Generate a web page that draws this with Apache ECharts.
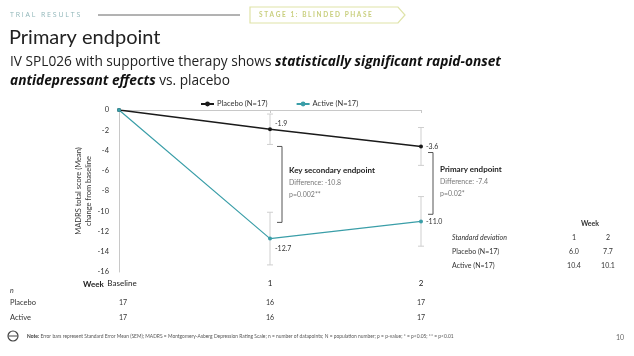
<!DOCTYPE html>
<html><head><meta charset="utf-8">
<script src="https://cdn.jsdelivr.net/npm/echarts@6/dist/echarts.min.js"></script>
<style>html,body{margin:0;padding:0;background:#fff}#c{width:634px;height:356px}</style>
</head><body><div id="c"></div>
<script>
const categories = ['Baseline', '1', '2'];
const placebo = [0, -1.9, -3.6];
const active = [0, -12.7, -11.0];
const placeboSEM = [0, 1.5, 1.87];
const activeSEM = [0, 2.6, 2.45];
const nPlacebo = ['17', '16', '17'];
const nActive = ['17', '16', '17'];
const sdWeeks = ['1', '2'];
const sdPlacebo = ['6.0', '7.7'];
const sdActive = ['10.4', '10.1'];
const brackets = [
  {cat: 1, top: -3.6, bottom: -11.1, title: 'Key secondary endpoint', diff: 'Difference: -10.8', p: 'p=0.002**'},
  {cat: 2, top: -4.2, bottom: -10.3, title: 'Primary endpoint', diff: 'Difference: -7.4', p: 'p=0.02*'}
];
const yTicks = {min: -16, max: 0, interval: 2};

const FONT = 'Lato, "Noto Sans", sans-serif';
const HFONT = '"Open Sans", "Noto Sans", sans-serif';
const BLACK = '#1a1a1a', TEAL = '#3a9ea8', GRAY = '#cfcfcf';

function errData(vals, sem) {
  return vals.map((v, i) => [i, v + sem[i], v - sem[i]]).filter((d, i) => sem[i] > 0);
}
function errRender(params, api) {
  const x = api.value(0);
  const p1 = api.coord([x, api.value(1)]);
  const p2 = api.coord([x, api.value(2)]);
  const w = 3;
  const st = {stroke: GRAY, lineWidth: 1};
  return {type: 'group', children: [
    {type: 'line', shape: {x1: p1[0], y1: p1[1], x2: p2[0], y2: p2[1]}, style: st},
    {type: 'line', shape: {x1: p1[0] - w, y1: p1[1], x2: p1[0] + w, y2: p1[1]}, style: st},
    {type: 'line', shape: {x1: p2[0] - w, y1: p2[1], x2: p2[0] + w, y2: p2[1]}, style: st}
  ]};
}
function bracketRender(params, api) {
  const b = brackets[params.dataIndex];
  const p1 = api.coord([b.cat, b.top]);
  const p2 = api.coord([b.cat, b.bottom]);
  const xr = p1[0] + 12, xl = p1[0] + 7;
  const st = {stroke: '#555', lineWidth: 1, fill: null};
  const mid = (p1[1] + p2[1]) / 2;
  return {type: 'group', children: [
    {type: 'polyline', shape: {points: [[xl, p1[1]], [xr, p1[1]], [xr, p2[1]], [xl, p2[1]]]}, style: st},
    {type: 'text', x: xr + 7, y: mid - 14, style: {text: b.title, font: 'bold 8px ' + FONT, fill: '#222', verticalAlign: 'middle'}},
    {type: 'text', x: xr + 7, y: mid - 2, style: {text: b.diff, font: '7px ' + FONT, fill: '#777', verticalAlign: 'middle'}},
    {type: 'text', x: xr + 7, y: mid + 10, style: {text: b.p, font: '7px ' + FONT, fill: '#777', verticalAlign: 'middle'}}
  ]};
}

const chart = echarts.init(document.getElementById('c'));
const option = {
  animation: false,
  textStyle: {fontFamily: FONT},
  grid: {left: 119, right: 213, top: 110, bottom: 84},
  legend: {
    top: 95, left: 195, itemGap: 28, itemWidth: 13, itemHeight: 6,
    textStyle: {fontSize: 7.5, color: '#333', padding: [0, 0, 0, -2]},
    data: ['Placebo (N=17)', 'Active (N=17)']
  },
  xAxis: {
    type: 'category', data: categories, boundaryGap: false,
    axisLine: {lineStyle: {color: '#c8c8c8'}},
    axisTick: {show: true, length: 3, lineStyle: {color: '#c8c8c8'}},
    axisLabel: {fontSize: 8, color: '#222', margin: 7,
      formatter: (v) => v === 'Baseline' ? '{b|' + v + '}' : v,
      rich: {b: {fontSize: 8, color: '#222', padding: [0, 0, 0, 6]}}}
  },
  yAxis: {
    type: 'value', min: yTicks.min, max: yTicks.max, interval: yTicks.interval,
    name: 'MADRS total score (Mean)\nchange from baseline', nameLocation: 'middle', nameGap: 22,
    nameTextStyle: {fontSize: 7.5, color: '#333', lineHeight: 10},
    axisLine: {show: true, lineStyle: {color: '#c8c8c8'}},
    axisTick: {show: false},
    splitLine: {show: false},
    axisLabel: {fontSize: 7.5, color: '#333', margin: 10}
  },
  series: [
    {type: 'custom', name: 'errP', renderItem: errRender, data: errData(placebo, placeboSEM), z: 1, silent: true},
    {type: 'custom', name: 'errA', renderItem: errRender, data: errData(active, activeSEM), z: 1, silent: true},
    {type: 'custom', name: 'br', renderItem: bracketRender, data: brackets.map((b, i) => [b.cat, b.top, b.bottom]), z: 1, silent: true},
    {
      type: 'line', name: 'Placebo (N=17)', data: placebo, color: BLACK,
      symbol: 'circle', symbolSize: 4, lineStyle: {width: 1.5, color: BLACK}, z: 3,
      label: {show: true, fontSize: 7, color: '#333',
        formatter: (p) => p.dataIndex === 0 ? '' : p.value.toFixed(1),
        position: 'right', distance: 3},
      labelLayout: (p) => p.dataIndex === 1 ? {dy: -5} : {}
    },
    {
      type: 'line', name: 'Active (N=17)', data: active, color: TEAL,
      symbol: 'circle', symbolSize: 4, lineStyle: {width: 1.2, color: TEAL}, z: 3,
      label: {show: true, fontSize: 7, color: '#333',
        formatter: (p) => p.dataIndex === 0 ? '' : p.value.toFixed(1),
        position: 'right', distance: 3},
      labelLayout: (p) => p.dataIndex === 1 ? {dy: 10} : {}
    }
  ]
};
chart.setOption(option);

// Graphic elements: header, table, notes
const g = [];
function txt(x, y, text, font, fill, extra) {
  g.push(Object.assign({type: 'text', x: x, y: y, style: Object.assign({text: text, font: font, fill: fill, verticalAlign: 'middle'}, extra || {})}));
}
txt(10, 15, 'T R I A L   R E S U L T S', '7px ' + HFONT, '#8fb5b8');
g.push({type: 'line', shape: {x1: 98, y1: 15, x2: 240, y2: 15}, style: {stroke: '#666', lineWidth: 1}});
g.push({type: 'polygon', shape: {points: [[250, 7], [398, 7], [405, 15], [398, 23], [250, 23]]}, style: {fill: '#fff', stroke: '#dfe3a8', lineWidth: 1.2}});
txt(259, 15, 'S T A G E   1 :   B L I N D E D   P H A S E', 'bold 6.5px ' + FONT, '#c9cf7e');
txt(9, 38, 'Primary endpoint', '20px ' + FONT, '#222');
g.push({type: 'text', x: 10, y: 62, style: {
  text: '{n|IV SPL026 with supportive therapy shows }{b|statistically significant rapid-onset}',
  verticalAlign: 'middle', rich: {n: {font: '13.7px ' + HFONT, fill: '#222'}, b: {font: 'italic bold 13.7px ' + HFONT, fill: '#111'}}}});
g.push({type: 'text', x: 10, y: 81, style: {
  text: '{b|antidepressant effects}{n| vs. placebo}',
  verticalAlign: 'middle', rich: {n: {font: '13.7px ' + HFONT, fill: '#222'}, b: {font: 'italic bold 13.7px ' + HFONT, fill: '#111'}}}});

// Week label + n table
txt(83, 284, 'Week', 'bold 8px ' + FONT, '#222');
txt(10, 291, 'n', 'italic 7px ' + FONT, '#333');
txt(10, 303, 'Placebo', '7.5px ' + FONT, '#333');
txt(10, 318, 'Active', '7.5px ' + FONT, '#333');
categories.forEach((c, i) => {
  const px = chart.convertToPixel({xAxisIndex: 0}, c);
  const dx = i === 0 ? 4 : 0;
  txt(px + dx, 303, nPlacebo[i], '7px ' + FONT, '#333', {align: 'center'});
  txt(px + dx, 318, nActive[i], '7px ' + FONT, '#333', {align: 'center'});
});

// SD table
txt(590, 224, 'Week', 'bold 7px ' + FONT, '#333', {align: 'center'});
txt(452, 238, 'Standard deviation', 'italic 7px ' + FONT, '#333');
txt(452, 252, 'Placebo (N=17)', '7px ' + FONT, '#333');
txt(452, 266, 'Active (N=17)', '7px ' + FONT, '#333');
const sdX = [574, 608];
sdWeeks.forEach((w, i) => {
  txt(sdX[i], 238, w, '7px ' + FONT, '#333', {align: 'center'});
  txt(sdX[i], 252, sdPlacebo[i], '7px ' + FONT, '#333', {align: 'center'});
  txt(sdX[i], 266, sdActive[i], '7px ' + FONT, '#333', {align: 'center'});
});

// Note
g.push({type: 'circle', shape: {cx: 13, cy: 336, r: 5}, style: {fill: 'none', stroke: '#444', lineWidth: 1.2}});
g.push({type: 'line', shape: {x1: 8.5, y1: 336, x2: 17.5, y2: 336}, style: {stroke: '#444', lineWidth: 1}});
g.push({type: 'text', x: 27, y: 336, style: {
  text: '{b|Note:} Error bars represent Standard Error Mean (SEM); MADRS = Montgomery-Asberg Depression Rating Scale; n = number of datapoints; N = population number; p = p-value; * = p<0.05; ** = p<0.01',
  font: '4.9px ' + FONT, fill: '#555', verticalAlign: 'middle', rich: {b: {font: 'bold 4.9px ' + FONT, fill: '#333'}}}});
txt(616, 338, '10', '7px ' + FONT, '#666');

chart.setOption({graphic: g});
</script></body></html>
